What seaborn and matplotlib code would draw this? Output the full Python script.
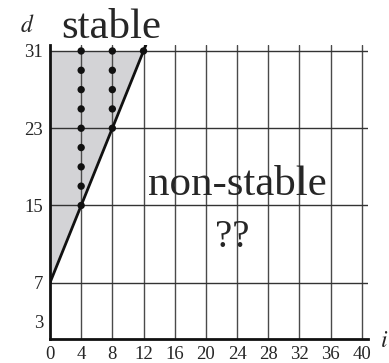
import numpy as np
import pandas as pd
import matplotlib
matplotlib.use("Agg")
import matplotlib.pyplot as plt
import seaborn as sns

# Axis ticks
i_ticks = [0, 4, 8, 12, 16, 20, 24, 28, 32, 36, 40]
d_ticks = [3, 7, 15, 23, 31]
d_grid = [7, 15, 23, 31]

# Stability boundary d = 7 + 2 i
bound_i = [0, 12.3]
bound_d = [7, 31.6]

# Sampled stable points
dot_i = [4, 4, 4, 4, 4, 4, 4, 4, 4, 8, 8, 8, 8, 8, 12]
dot_d = [15, 17, 19, 21, 23, 25, 27, 29, 31, 23, 25, 27, 29, 31, 31]

sns.set_style("white")
plt.rcParams["font.family"] = ["Liberation Serif", "DejaVu Serif"]
plt.rcParams["mathtext.fontset"] = "stix"

fig = plt.figure(figsize=(3.89, 3.63), dpi=100)
ax = fig.add_axes([0.1285, 0.0669, 0.8175, 0.8086])

xlim = (0, 40.8)
ylim = (1.2, 31.6)

# shaded stable region (between boundary and d = 31)
fi = np.linspace(0, 12, 50)
ax.fill_between(fi, 7 + 2 * fi, 31, color="#d3d3d6", lw=0, zorder=0)

# grid
for x in i_ticks[1:]:
    ax.axvline(x, color="#4a4a4a", lw=1.0, zorder=1)
for y in d_grid:
    ax.axhline(y, color="#333333", lw=1.0, zorder=1)

bound = pd.DataFrame({"i": bound_i, "d": bound_d})
sns.lineplot(data=bound, x="i", y="d", color="#111111", lw=2.0, ax=ax, zorder=3)

dots = pd.DataFrame({"i": dot_i, "d": dot_d})
sns.scatterplot(data=dots, x="i", y="d", color="#111111", s=28, edgecolor="none", ax=ax, zorder=4)

ax.set_xlim(*xlim)
ax.set_ylim(*ylim)
ax.set_xticks(i_ticks)
ax.set_yticks(d_ticks)
ax.tick_params(length=0, labelsize=13.5, pad=5)
ax.set_xlabel("")
ax.set_ylabel("")

for s in ["top", "right"]:
    ax.spines[s].set_visible(False)
for s in ["left", "bottom"]:
    ax.spines[s].set_color("#111111")
    ax.spines[s].set_linewidth(2.0)

ax.text(7.8, 32.3, "stable", fontsize=31, ha="center", va="baseline", clip_on=False)
ax.text(24.1, 16.1, "non-stable", fontsize=31, ha="center", va="baseline")
ax.text(23.4, 10.7, "??", fontsize=28, ha="center", va="baseline")
fig.text(27 / 389, 1 - 32 / 363, "$d$", fontsize=17, ha="center", va="baseline")
fig.text(384 / 389, 1 - 347 / 363, "$i$", fontsize=17, ha="center", va="baseline")

fig.savefig("out.png", dpi=100)
